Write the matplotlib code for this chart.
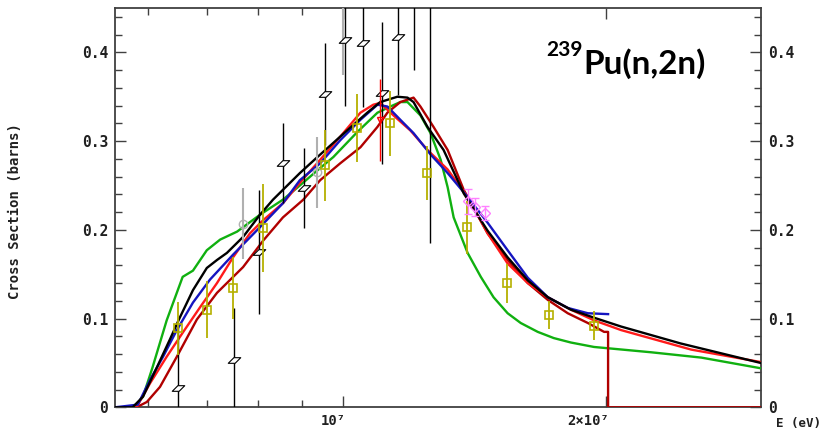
import numpy as np
import matplotlib
matplotlib.use("Agg")
import matplotlib.pyplot as plt
from matplotlib.ticker import FixedLocator, NullFormatter, FuncFormatter
from matplotlib.path import Path

# ---------------- data (energies in MeV, cross sections in barns) -------------
green_E = [5.5, 5.76, 5.82, 5.92, 6.07, 6.30, 6.57, 6.75, 7.00, 7.25, 7.58, 8.05, 8.55, 8.94,
           9.36, 9.76, 10.39, 10.96, 11.34, 11.64, 11.86, 12.27, 12.60, 12.94, 13.18, 13.39,
           13.89, 14.38, 14.87, 15.43, 15.97, 16.70, 17.42, 18.22, 19.36, 22.5, 25.67, 30.0]
green_S = [0, 0, 0.003, 0.012, 0.045, 0.098, 0.147, 0.154, 0.177, 0.189, 0.198, 0.217, 0.234, 0.250,
           0.267, 0.282, 0.310, 0.332, 0.339, 0.344, 0.344, 0.329, 0.309, 0.279, 0.248, 0.214,
           0.174, 0.147, 0.124, 0.106, 0.095, 0.085, 0.078, 0.073, 0.068, 0.062, 0.056, 0.044]

black_E = [5.5, 5.76, 5.92, 6.14, 6.35, 6.52, 6.75, 7.00, 7.19, 7.38, 7.70, 8.05, 8.33, 8.94,
           9.36, 9.76, 10.20, 10.67, 11.04, 11.55, 11.86, 12.05, 12.50, 13.04, 13.75, 14.64,
           15.43, 16.27, 17.15, 18.22, 19.36, 20.79, 24.3, 30.0]
black_S = [0, 0, 0.012, 0.045, 0.076, 0.101, 0.132, 0.157, 0.166, 0.174, 0.192, 0.217, 0.234, 0.264,
           0.282, 0.298, 0.315, 0.332, 0.344, 0.350, 0.349, 0.344, 0.316, 0.290, 0.241, 0.199,
           0.169, 0.143, 0.124, 0.110, 0.101, 0.091, 0.072, 0.050]

blue_E = [5.5, 5.84, 6.03, 6.24, 6.47, 6.75, 7.06, 7.50, 8.05, 8.55, 8.94, 9.43, 9.94, 10.48,
          10.96, 11.25, 11.64, 12.05, 12.60, 13.18, 13.89, 14.64, 15.43, 16.27, 17.15, 18.07,
          19.05, 20.09]
blue_S = [0, 0.003, 0.031, 0.057, 0.087, 0.118, 0.144, 0.172, 0.203, 0.230, 0.256, 0.275, 0.301, 0.324,
          0.341, 0.339, 0.324, 0.309, 0.285, 0.264, 0.237, 0.208, 0.177, 0.146, 0.124, 0.112,
          0.106, 0.105]

red_E = [5.5, 5.82, 6.03, 6.30, 6.57, 6.88, 7.19, 7.50, 7.84, 8.12, 8.55, 8.94, 9.43, 9.94,
         10.48, 10.84, 11.04, 11.43, 11.95, 12.50, 13.18, 13.89, 14.64, 15.43, 16.27, 17.15,
         18.22, 19.36, 20.79, 25.0, 30.0]
red_S = [0, 0, 0.027, 0.057, 0.084, 0.113, 0.140, 0.169, 0.196, 0.211, 0.230, 0.253, 0.279, 0.305,
         0.332, 0.341, 0.343, 0.329, 0.312, 0.290, 0.268, 0.237, 0.196, 0.162, 0.140, 0.124,
         0.110, 0.098, 0.087, 0.065, 0.051]

maroon_E = [5.5, 5.82, 5.98, 6.19, 6.47, 6.82, 7.19, 7.70, 8.12, 8.55, 9.02, 9.43, 9.94, 10.48,
            10.96, 11.25, 11.64, 12.05, 12.27, 12.70, 13.18, 13.75, 14.64, 15.43, 16.27, 17.15,
            18.07, 19.05, 19.88, 20.09, 20.09, 30.0]
maroon_S = [0, 0, 0.006, 0.023, 0.057, 0.099, 0.129, 0.158, 0.188, 0.214, 0.234, 0.256, 0.275, 0.293,
            0.316, 0.332, 0.344, 0.349, 0.339, 0.316, 0.290, 0.245, 0.196, 0.166, 0.140, 0.121,
            0.106, 0.095, 0.085, 0.085, 0.0, 0.0]

# experimental points
blk_E = [6.49, 7.52, 8.03, 8.55, 9.04, 9.55, 10.07, 10.56, 11.10, 11.58, 12.08, 12.57]
blk_S = [0.022, 0.053, 0.175, 0.275, 0.247, 0.353, 0.414, 0.410, 0.354, 0.417, 0.47, 0.47]
blk_D = [0.068, 0.059, 0.070, 0.045, 0.045, 0.057, 0.075, 0.072, 0.080, 0.065, 0.09, 0.285]

olv_E = [6.49, 7.00, 7.50, 8.12, 9.55, 10.39, 11.34, 12.50, 13.86, 15.40, 17.20, 19.36]
olv_S = [0.089, 0.110, 0.134, 0.202, 0.273, 0.315, 0.320, 0.264, 0.203, 0.140, 0.104, 0.092]
olv_D = [0.030, 0.032, 0.035, 0.050, 0.040, 0.038, 0.037, 0.030, 0.030, 0.022, 0.016, 0.016]

gry_E = [7.70, 9.36, 10.02]
gry_S = [0.207, 0.265, 0.46]
gry_D = [0.040, 0.040, 0.085]

mag_E = [13.89, 14.15, 14.55]
mag_S = [0.232, 0.226, 0.219]
mag_D = [0.014, 0.010, 0.008]

red_pt_E = [11.04]
red_pt_S = [0.324]
red_pt_D = [0.046]

y_ticks = [0, 0.1, 0.2, 0.3, 0.4]
x_major = [1e7, 2e7]
x_minor = [6e6, 7e6, 8e6, 9e6]
x_labels = ["10\u2077", "2\u00d710\u2077"]

# ---------------- figure ----------------
fig = plt.figure(figsize=(8.25, 4.34), dpi=100)
ax = fig.add_axes([115 / 825, 1 - 407.3 / 434, (760.7 - 115) / 825, (407.3 - 8) / 434])

MeV = 1e6
def e(v):
    return np.asarray(v) * MeV

lw = 1.7
ax.plot(e(green_E), green_S, color="#10b010", lw=lw, zorder=3)
ax.plot(e(maroon_E), maroon_S, color="#b00000", lw=lw, zorder=4)
ax.plot(e(red_E), red_S, color="#ff1a1a", lw=lw, zorder=4)
ax.plot(e(blue_E), blue_S, color="#1515c0", lw=lw, zorder=5)
ax.plot(e(black_E), black_S, color="black", lw=lw, zorder=6)

para = Path([(-1, -0.45), (0.1, -0.45), (1, 0.45), (-0.1, 0.45), (-1, -0.45)],
            [Path.MOVETO, Path.LINETO, Path.LINETO, Path.LINETO, Path.CLOSEPOLY])

ax.errorbar(e(gry_E), gry_S, yerr=gry_D, fmt="o", ms=6, mfc="none", mec="#b0b0b0",
            ecolor="#b0b0b0", elinewidth=1.5, capsize=0, zorder=7)
ax.errorbar(e(blk_E), blk_S, yerr=blk_D, fmt="none", ecolor="black", elinewidth=1,
            capsize=0, zorder=7)
ax.plot(e(blk_E), blk_S, ls="none", marker=para, ms=9, mfc="white", mec="black", mew=0.8, zorder=8)
ax.errorbar(e(olv_E), olv_S, yerr=olv_D, fmt="s", ms=6, mfc="none", mec="#b5b000",
            ecolor="#b5b000", elinewidth=1.3, mew=1.2, capsize=0, zorder=8)
ax.errorbar(e(mag_E), mag_S, yerr=mag_D, fmt="D", ms=5, mfc="none", mec="#ff80ff",
            ecolor="#ff80ff", elinewidth=1, capsize=3, zorder=8)
ax.errorbar(e(red_pt_E), red_pt_S, yerr=red_pt_D, fmt="v", ms=5, mfc="none", mec="red",
            ecolor="red", elinewidth=1, capsize=0, zorder=8)

ax.set_xscale("log")
ax.set_xlim(5.5e6, 3.0e7)
ax.set_ylim(0, 0.45)

ax.xaxis.set_major_locator(FixedLocator(x_major))
ax.xaxis.set_minor_locator(FixedLocator(x_minor))
ax.xaxis.set_major_formatter(NullFormatter())
ax.xaxis.set_minor_formatter(NullFormatter())
ax.yaxis.set_major_locator(FixedLocator(y_ticks))
ax.yaxis.set_minor_locator(FixedLocator(np.arange(0, 0.45, 0.02)))
ax.yaxis.set_major_formatter(FuncFormatter(lambda v, p: "0" if v == 0 else f"{v:.1f}"))

mono = "DejaVu Sans Mono"
ax.tick_params(which="both", direction="in", top=True, right=True, labelright=True,
               color="#404040", width=1)
ax.tick_params(which="major", length=8, labelsize=10.5, pad=5)
ax.tick_params(which="minor", length=5)
for lab in ax.get_yticklabels():
    lab.set_fontfamily(mono)
    lab.set_fontweight("bold")
    lab.set_color("#202020")
for sp in ax.spines.values():
    sp.set_color("#404040")
    sp.set_linewidth(1.3)

for xv, txt in zip(x_major, x_labels):
    ax.annotate(txt, xy=(xv, 0), xycoords=("data", "axes fraction"), xytext=(3, -7),
                textcoords="offset pixels", ha="right", va="top", fontsize=10,
                family=mono, weight="bold", color="#202020")

fig.text(15 / 825, 1 - 211 / 434, "Cross Section (barns)", rotation=90, ha="center",
         va="center", fontsize=10, family=mono, weight="bold", color="#202020")
fig.text(798 / 825, 1 - 423 / 434, "E (eV)", ha="center", va="center", fontsize=9,
         family=mono, weight="bold", color="#202020")

fig.text(583 / 825, 1 - 74 / 434, "Pu(n,2n)", ha="left", va="baseline", fontsize=24,
         family="Lato", weight="bold", color="black")
fig.text(583 / 825, 1 - 56 / 434, "239", ha="right", va="baseline", fontsize=15,
         family="Lato", weight="bold", color="black")

fig.savefig("out.png", dpi=100)
